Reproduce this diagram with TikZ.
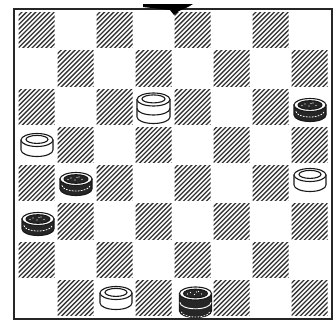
\documentclass[tikz,border=0pt]{standalone}
\begin{document}
\begin{tikzpicture}[x=1pt,y=-1pt,line cap=round,
  pl/.style={line width=1.1pt, draw=black!90},
  hatch/.style={line width=1.3pt, draw=black!80},
  wpiece/.pic={
    \draw[pl,fill=white] (-16,-5) -- (-16,5) arc[start angle=180,end angle=0,x radius=16,y radius=6.5] -- (16,-5);
    \draw[pl,fill=white] (0,-5) ellipse[x radius=16,y radius=6.5];
    \draw[pl] (0,-5.6) ellipse[x radius=11,y radius=4];
  },
  wking/.pic={
    \draw[pl,fill=white] (-16.5,-8.5) -- (-16.5,9) arc[start angle=180,end angle=0,x radius=16.5,y radius=6.5] -- (16.5,-8.5);
    \draw[pl] (-16.5,0.5) arc[start angle=180,end angle=0,x radius=16.5,y radius=6.5];
    \draw[pl,fill=white] (0,-8.5) ellipse[x radius=16.5,y radius=6.5];
    \draw[pl] (0,-9.1) ellipse[x radius=11.5,y radius=4];
  },
  bpiece/.pic={
    \draw[pl,fill=black!85] (-16,-5) -- (-16,5) arc[start angle=180,end angle=0,x radius=16,y radius=6.5] -- (16,-5) -- cycle;
    \draw[white,line width=0.8pt,dash pattern=on 1.2pt off 1.8pt] (-14,1.5) arc[start angle=180,end angle=0,x radius=14,y radius=5.5];
    \draw[pl,fill=white] (0,-5) ellipse[x radius=16,y radius=6.5];
    \draw[pl,fill=black!85] (0,-5) ellipse[x radius=12,y radius=4.3];
    \foreach \p in {(-5,-6),(-1,-4),(3,-7),(6,-4.5),(-8,-4.5),(1,-6.5)} \fill[white] \p circle[radius=0.6];
  },
  bking/.pic={
    \draw[pl,fill=black!85] (-16,-8.5) -- (-16,9) arc[start angle=180,end angle=0,x radius=16,y radius=6.5] -- (16,-8.5) -- cycle;
    \draw[white,line width=0.9pt] (-15.5,0.5) arc[start angle=180,end angle=0,x radius=15.5,y radius=6.3];
    \draw[white,line width=0.8pt,dash pattern=on 1.2pt off 1.8pt] (-14,10) arc[start angle=180,end angle=0,x radius=14,y radius=5];
    \draw[pl,fill=white] (0,-8.5) ellipse[x radius=16,y radius=6.5];
    \draw[pl,fill=black!85] (0,-8.5) ellipse[x radius=12,y radius=4.3];
    \foreach \p in {(-5,-9.5),(-1,-7.5),(3,-10.5),(6,-8),(-8,-8),(1,-10)} \fill[white] \p circle[radius=0.6];
  }
]
\useasboundingbox (0,0) rectangle (335,322);
\fill[white] (0,0) rectangle (335,322);
% hatched squares
\foreach \r in {0,...,7}{
  \foreach \c in {0,...,7}{
    \pgfmathtruncatemacro\s{mod(\r+\c,2)}
    \ifnum\s=0
      \begin{scope}
        \clip (17+39*\c+1.5, 11+38.25*\r+1.5) rectangle ++(36,35.25);
        \foreach \k in {-9,...,9}
          \draw[hatch] (17+39*\c+\k*4.6, 11+38.25*\r+38.25) -- ++(38.25,-38.25);
      \end{scope}
    \fi
  }
}
% frame
\draw[line width=1.2pt, black!85] (14,9) rectangle (332,319);
% top wedge
\fill[black] (143,4) -- (193,4) -- (188,7) -- (179,11) -- (174,15) -- (170,10) -- (152,8) -- (143,7) -- cycle;
% pieces
\pic (w1) at (37,145) {wpiece};
\pic (w2) at (310,180) {wpiece};
\pic (w3) at (116,298) {wpiece};
\pic (wk) at (153.5,108) {wking};
\pic (b1) at (310,110) {bpiece};
\pic (b2) at (76,184) {bpiece};
\pic (b3) at (38,224) {bpiece};
\pic (bk) at (195.5,302) {bking};
\end{tikzpicture}
\end{document}
